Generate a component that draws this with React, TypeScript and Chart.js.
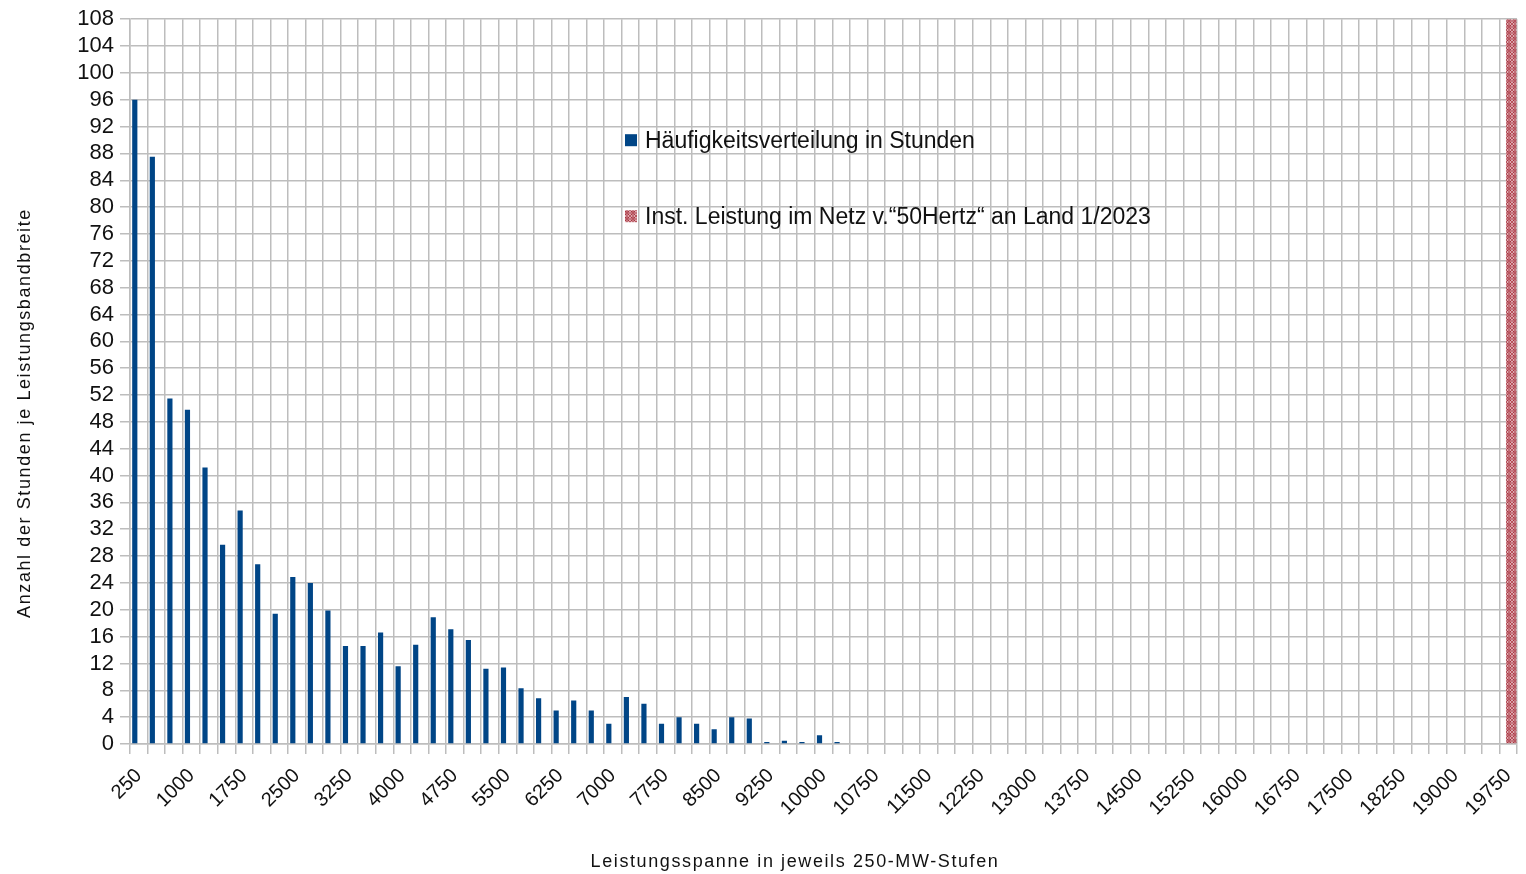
import React, { useEffect, useRef } from 'react';
import { Chart, registerables } from 'chart.js';

Chart.register(...registerables);

const FONT = "'Liberation Sans', Arial, sans-serif";

// Leistungsspanne (MW), 250-MW-Stufen
const categories: string[] = [
  '250', '500', '750', '1000', '1250', '1500', '1750', '2000', '2250', '2500',
  '2750', '3000', '3250', '3500', '3750', '4000', '4250', '4500', '4750', '5000',
  '5250', '5500', '5750', '6000', '6250', '6500', '6750', '7000', '7250', '7500',
  '7750', '8000', '8250', '8500', '8750', '9000', '9250', '9500', '9750', '10000',
  '10250', '10500', '10750', '11000', '11250', '11500', '11750', '12000', '12250', '12500',
  '12750', '13000', '13250', '13500', '13750', '14000', '14250', '14500', '14750', '15000',
  '15250', '15500', '15750', '16000', '16250', '16500', '16750', '17000', '17250', '17500',
  '17750', '18000', '18250', '18500', '18750', '19000', '19250', '19500', '19750',
];

// Häufigkeitsverteilung in Stunden
const frequencyHours: number[] = [
  96, 87.5, 51.5, 49.8, 41.2, 29.7, 34.8, 26.8, 19.4, 24.9,
  24, 19.9, 14.6, 14.6, 16.6, 11.6, 14.8, 18.9, 17.1, 15.5,
  11.2, 11.4, 8.3, 6.8, 5, 6.5, 5, 3, 7, 6,
  3, 4, 3, 2.2, 4, 3.8, 0.3, 0.5, 0.3, 1.3,
  0.3, 0, 0, 0, 0, 0, 0, 0, 0, 0,
  0, 0, 0, 0, 0, 0, 0, 0, 0, 0,
  0, 0, 0, 0, 0, 0, 0, 0, 0, 0,
  0, 0, 0, 0, 0, 0, 0, 0, 0,
];

// Installierte Leistung (Marker über volle Höhe)
const installedCategory = '19750';
const installedValue = 108;

const yTickMax = 108;
const yTickStep = 4;

const seriesLabels = [
  'Häufigkeitsverteilung in Stunden',
  'Inst. Leistung im Netz v.“50Hertz“ an Land 1/2023',
];
const yTitle = 'Anzahl der Stunden je Leistungsbandbreite';
const xTitle = 'Leistungsspanne in jeweils 250-MW-Stufen';

function makeHatch(): CanvasPattern | string {
  const tile = document.createElement('canvas');
  tile.width = 6;
  tile.height = 6;
  const c = tile.getContext('2d');
  if (!c) return '#a8323e';
  c.fillStyle = '#f3dde0';
  c.fillRect(0, 0, 6, 6);
  c.strokeStyle = '#a8323e';
  c.lineWidth = 1.1;
  c.beginPath();
  c.arc(3, 3, 2.1, 0, Math.PI * 2);
  c.stroke();
  c.beginPath();
  c.moveTo(0, 0); c.lineTo(6, 6);
  c.moveTo(6, 0); c.lineTo(0, 6);
  c.lineWidth = 0.8;
  c.stroke();
  const p = c.createPattern(tile, 'repeat');
  return p || '#a8323e';
}

const overlayPlugin = {
  id: 'overlayTexts',
  afterDraw(chart: any) {
    const ctx: CanvasRenderingContext2D = chart.ctx;
    const area = chart.chartArea;
    ctx.save();
    // Legend inside plot area
    const ds = chart.data.datasets;
    const lx = area.left + 495;
    const rows = [area.top + 121, area.top + 197];
    ctx.font = `23px ${FONT}`;
    ctx.textBaseline = 'middle';
    ctx.textAlign = 'left';
    for (let i = 0; i < ds.length; i++) {
      const y = rows[i];
      ctx.fillStyle = '#ffffff';
      ctx.fillRect(lx, y - 6, 12, 12);
      ctx.fillStyle = ds[i].backgroundColor;
      ctx.fillRect(lx, y - 6, 12, 12);
      ctx.fillStyle = '#111111';
      ctx.fillText(ds[i].label, lx + 20, y + 1);
    }
    // Axis titles
    ctx.fillStyle = '#111111';
    ctx.font = `18px ${FONT}`;
    (ctx as any).letterSpacing = '1.6px';
    ctx.textAlign = 'center';
    ctx.textBaseline = 'middle';
    ctx.fillText(xTitle, 795, 862);
    ctx.translate(25, 413);
    ctx.rotate(-Math.PI / 2);
    ctx.fillText(yTitle, 0, 0);
    ctx.restore();
  },
};

export default function App() {
  const ref = useRef<HTMLCanvasElement | null>(null);

  useEffect(() => {
    if (!ref.current) return;
    const gridColor = '#bdbdbd';
    const chart = new Chart(ref.current, {
      type: 'bar',
      data: {
        labels: categories,
        datasets: [
          {
            label: seriesLabels[0],
            data: frequencyHours,
            backgroundColor: '#004586',
            borderWidth: 0,
            categoryPercentage: 0.91,
            barPercentage: 0.65,
          } as any,
          {
            label: seriesLabels[1],
            data: [{ x: installedCategory, y: installedValue }],
            backgroundColor: makeHatch(),
            borderWidth: 0,
            categoryPercentage: 0.68,
            barPercentage: 1.75,
          } as any,
        ],
      },
      options: {
        responsive: false,
        animation: false,
        layout: { padding: { top: 18, right: 9, left: 0, bottom: 0 } },
        plugins: {
          legend: { display: false },
          tooltip: { enabled: false },
          title: { display: false },
        },
        scales: {
          x: {
            offset: true,
            grid: { offset: true, color: gridColor, lineWidth: 1.5, tickLength: 10, drawTicks: true },
            border: { color: gridColor, width: 1.5 },
            ticks: {
              autoSkip: false,
              maxRotation: 45,
              minRotation: 45,
              padding: 10,
              color: '#111111',
              font: { family: FONT, size: 20 },
              callback: (_v: any, i: number) => (i % 3 === 0 ? categories[i] : ''),
            },
            afterFit: (s: any) => {
              s.height = 130;
              s.paddingRight = 0;
              s.paddingLeft = 0;
            },
          },
          y: {
            min: 0,
            max: yTickMax,
            grid: { color: gridColor, lineWidth: 1.5, tickLength: 10 },
            border: { color: gridColor, width: 1.5 },
            ticks: {
              stepSize: yTickStep,
              autoSkip: false,
              padding: 6,
              color: '#111111',
              font: { family: FONT, size: 22 },
            },
            afterFit: (s: any) => { s.width = 130; },
          },
        },
      },
      plugins: [overlayPlugin],
    });
    return () => chart.destroy();
  }, []);

  return (
    <div style={{ position: 'fixed', left: 0, top: 0, width: 1526, height: 874, background: '#ffffff' }}>
      <canvas ref={ref} width={1526} height={874} style={{ display: 'block' }} />
    </div>
  );
}
